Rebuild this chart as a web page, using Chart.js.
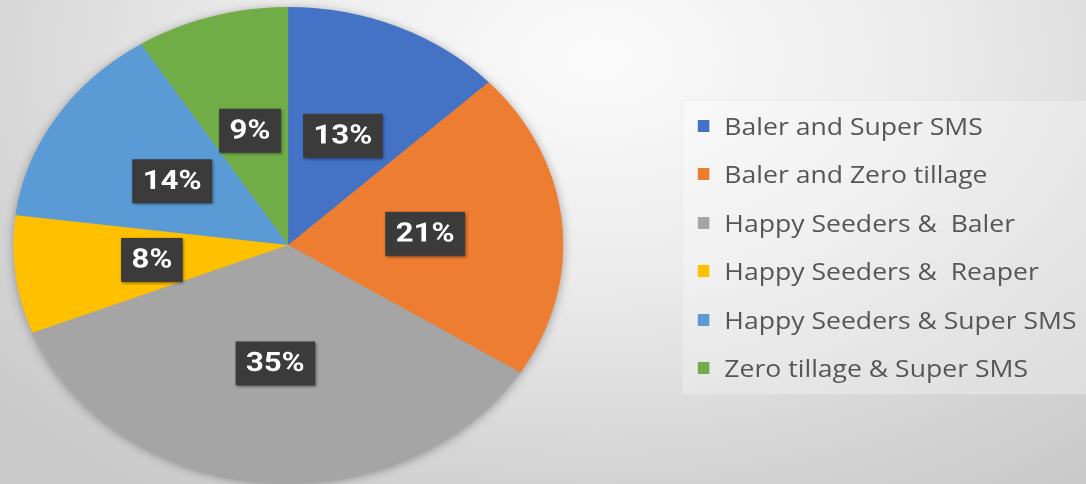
<!DOCTYPE html>
<html>
<head>
<meta charset="utf-8">
<script src="https://cdn.jsdelivr.net/npm/chart.js@4.4.1/dist/chart.umd.min.js"></script>
<style>
  html, body { margin: 0; padding: 0; }
  body {
    width: 1086px; height: 484px; overflow: hidden;
    background: radial-gradient(ellipse 75% 110% at 55% 12%, #fbfbfb 0%, #ececec 40%, #d6d6d6 75%, #c9c9c9 100%);
  }
  /* the original picture is stretched sideways, so the whole stage is too */
  #stage {
    position: absolute; left: 0; top: 0;
    width: 940px; height: 484px;
    transform: scaleX(1.1553); transform-origin: 0 0;
  }
  #pieBox { position: absolute; left: 0; top: 0; width: 499px; height: 484px; }
  #legend {
    position: absolute; left: 590px; top: 100px; width: 352px; height: 295px;
    box-sizing: border-box; padding-top: 1px;
    background: rgba(255,255,255,0.28);
    border: 1px solid rgba(0,0,0,0.04);
    font-family: "Open Sans", sans-serif; font-size: 23px; color: #565656;
  }
  .item { position: relative; height: 48.4px; line-height: 48.4px; white-space: pre; }
  .item span.box { position: absolute; left: 13px; top: 18px; width: 10px; height: 12px; }
  .item span.txt { position: absolute; left: 36px; top: 0; }
</style>
</head>
<body>
<div id="stage">
  <div id="pieBox"><canvas id="pieChart"></canvas></div>
  <div id="legend"></div>
</div>
<script>
let categories = [
    'Baler and Super SMS',
    'Baler and Zero tillage',
    'Happy Seeders &  Baler',
    'Happy Seeders &  Reaper',
    'Happy Seeders & Super SMS',
    'Zero tillage & Super SMS'
];
let shares = [13, 21, 35, 8, 14, 9];
let sliceColors = ['#4472C4', '#ED7D31', '#A5A5A5', '#FFC000', '#5B9BD5', '#70AD47'];

// soft shadow behind the whole pie
const pieShadow = {
    id: 'pieShadow',
    beforeDatasetsDraw(chart) {
        let arc = chart.getDatasetMeta(0).data[0];
        if (!arc) return;
        let ctx = chart.ctx;
        ctx.save();
        ctx.shadowColor = 'rgba(0,0,0,0.4)';
        ctx.shadowBlur = 20;
        ctx.shadowOffsetY = 3;
        ctx.fillStyle = '#a5a5a5';
        ctx.beginPath();
        ctx.arc(arc.x, arc.y, arc.outerRadius - 1, 0, Math.PI * 2);
        ctx.fill();
        ctx.restore();
    }
};

// dark boxes with the percentages
const sliceLabels = {
    id: 'sliceLabels',
    afterDatasetsDraw(chart) {
        let ctx = chart.ctx;
        let total = shares.reduce((a, b) => a + b, 0);
        chart.getDatasetMeta(0).data.forEach((arc, i) => {
            let p = arc.tooltipPosition();
            let text = Math.round(shares[i] / total * 100) + '%';
            ctx.save();
            ctx.font = 'bold 27px Roboto';
            let w = ctx.measureText(text).width + 18;
            let h = 44;
            ctx.shadowColor = 'rgba(0,0,0,0.45)';
            ctx.shadowBlur = 5;
            ctx.shadowOffsetX = 2;
            ctx.shadowOffsetY = 3;
            ctx.fillStyle = '#3b3b3b';
            ctx.fillRect(p.x - w / 2, p.y - h / 2, w, h);
            ctx.shadowColor = 'transparent';
            ctx.fillStyle = '#ffffff';
            ctx.textAlign = 'center';
            ctx.textBaseline = 'middle';
            ctx.fillText(text, p.x, p.y + 1);
            ctx.restore();
        });
    }
};

let chartInstance = new Chart(document.getElementById('pieChart').getContext('2d'), {
    type: 'pie',
    data: {
        labels: categories,
        datasets: [{
            data: shares,
            backgroundColor: sliceColors,
            borderWidth: 0,
            hoverBorderWidth: 0,
            offset: 0,
            hoverOffset: 0
        }]
    },
    options: {
        responsive: true,
        maintainAspectRatio: false,
        animation: false,
        events: [],
        devicePixelRatio: 2,
        layout: { padding: { top: 7, bottom: 1, left: 11, right: 11 } },
        plugins: {
            legend: { display: false },
            tooltip: { enabled: false }
        }
    },
    plugins: [pieShadow, sliceLabels]
});

// legend built from the same arrays
let legendDiv = document.getElementById('legend');
categories.forEach((name, i) => {
    let row = document.createElement('div');
    row.className = 'item';
    row.innerHTML = `<span class="box" style="background:${sliceColors[i]}"></span><span class="txt"></span>`;
    row.querySelector('.txt').textContent = name;
    legendDiv.appendChild(row);
});
</script>
</body>
</html>
